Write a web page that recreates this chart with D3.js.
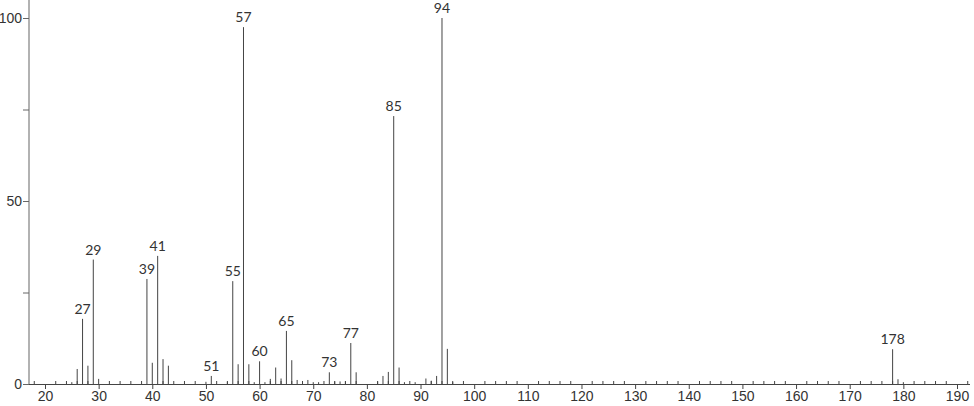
<!DOCTYPE html>
<html>
<head>
<meta charset="utf-8">
<script src="https://cdn.jsdelivr.net/npm/d3@7"></script>
<style>
  html, body { margin: 0; padding: 0; background: #fff; }
  svg { display: block; font-family: "Lato", "Open Sans", sans-serif; }
</style>
</head>
<body>
<div id="root"></div>
<script>
// mass spectrum peaks (m/z, relative intensity)
const mz = [25, 26, 27, 28, 29, 30, 39, 40, 41, 42, 43, 50, 51, 54, 55, 56, 57, 58, 59, 60,
  61, 62, 63, 64, 65, 66, 67, 68, 69, 70, 71, 73, 74, 75, 76, 77, 78, 82, 83, 84, 85, 86,
  87, 89, 91, 92, 93, 94, 95, 96, 178, 179, 180];
const intensity = [0.5, 4.1, 17.8, 5.0, 34, 1.4, 28.7, 5.8, 35, 6.8, 5.0, 0.6, 2.2, 0.6, 28.1, 5.4, 97.5, 5.4, 0.5, 6.2,
  0.5, 1.4, 4.5, 1.5, 14.5, 6.5, 1.1, 0.5, 1.1, 0.5, 0.5, 3.2, 0.7, 0.7, 0.7, 11.2, 3.2, 0.7, 2.2, 3.3, 73.2, 4.5,
  0.5, 0.5, 1.5, 0.9, 2.2, 100, 9.6, 0.5, 9.5, 1.3, 0.5];
const labelled = [27, 29, 39, 41, 51, 55, 57, 60, 65, 73, 77, 85, 94, 178];

const xMajorTicks = d3.range(20, 191, 10);
const xMinorTicks = d3.range(18, 193, 2).filter((v) => v % 10 !== 0);
const yTicks = [0, 25, 50, 75, 100];
const yLabels = [0, 50, 100];

const width = 974;
const height = 406;

const svg = d3
  .select("#root")
  .append("svg")
  .attr("width", width)
  .attr("height", height);

const x = d3.scaleLinear().domain([20, 190]).range([45, 957]);
const y = d3.scaleLinear().domain([0, 100]).range([384, 18]);

const axisLeftX = 29;
const axisRightX = 970;
const baseY = y(0);

// y axis
svg
  .append("line")
  .attr("x1", axisLeftX)
  .attr("x2", axisLeftX)
  .attr("y1", 0)
  .attr("y2", baseY)
  .attr("stroke", "#999")
  .attr("stroke-width", 1.5);

const yAxis = d3
  .axisLeft(y)
  .tickValues(yTicks)
  .tickSize(6)
  .tickPadding(1)
  .tickFormat((d) => (yLabels.includes(d) ? d : ""));

svg
  .append("g")
  .attr("transform", `translate(${axisLeftX}, 0)`)
  .call(yAxis)
  .call((g) => g.select(".domain").remove())
  .call((g) => g.selectAll("line").attr("stroke", "#666"))
  .call((g) =>
    g
      .selectAll("text")
      .attr("font-family", "inherit")
      .attr("font-size", 14)
      .attr("fill", "#333")
  );

// x axis
svg
  .append("line")
  .attr("x1", axisLeftX)
  .attr("x2", axisRightX)
  .attr("y1", baseY + 0.5)
  .attr("y2", baseY + 0.5)
  .attr("stroke", "#444");

const xAxis = d3
  .axisBottom(x)
  .tickValues(xMajorTicks)
  .tickSize(5)
  .tickPadding(2)
  .tickFormat(d3.format("d"));

svg
  .append("g")
  .attr("transform", `translate(0, ${baseY})`)
  .call(xAxis)
  .call((g) => g.select(".domain").remove())
  .call((g) => g.selectAll("line").attr("stroke", "#444"))
  .call((g) =>
    g
      .selectAll("text")
      .attr("font-family", "inherit")
      .attr("font-size", 14)
      .attr("fill", "#333")
  );

svg
  .append("g")
  .selectAll("line")
  .data(xMinorTicks)
  .join("line")
  .attr("x1", (d) => x(d))
  .attr("x2", (d) => x(d))
  .attr("y1", baseY)
  .attr("y2", baseY - 3)
  .attr("stroke", "#444");

// peaks
const peaks = mz.map((m, i) => ({ m, v: intensity[i] }));

svg
  .append("g")
  .selectAll("line")
  .data(peaks)
  .join("line")
  .attr("x1", (d) => x(d.m))
  .attr("x2", (d) => x(d.m))
  .attr("y1", baseY)
  .attr("y2", (d) => y(d.v))
  .attr("stroke", "#444")
  .attr("stroke-width", 1);

svg
  .append("g")
  .selectAll("text")
  .data(peaks.filter((d) => labelled.includes(d.m)))
  .join("text")
  .attr("x", (d) => x(d.m))
  .attr("y", (d) => y(d.v) - 5)
  .attr("text-anchor", "middle")
  .attr("font-size", 14)
  .attr("fill", "#333")
  .text((d) => d.m);
</script>
</body>
</html>
